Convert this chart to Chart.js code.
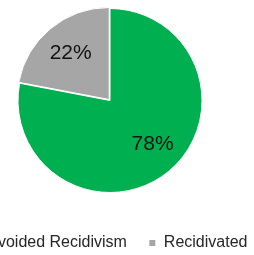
<!DOCTYPE html>
<html>
<head>
<meta charset="utf-8">
<script src="https://cdn.jsdelivr.net/npm/chart.js@4"></script>
<style>
  html, body { margin: 0; padding: 0; background: #fff; overflow: hidden; }
  #wrap { position: absolute; width: 340px; height: 273px; left: -60px; top: -12px; }
</style>
</head>
<body>
<div id="wrap"><canvas id="c" width="340" height="273"></canvas></div>
<script>
const labels = ['Avoided Recidivism', 'Recidivated'];
const values = [78, 22];
const colors = ['#00B050', '#A6A6A6'];
const offsets = [0, 5];

const FONT = '"Liberation Sans", Arial, sans-serif';

// label placement: fraction of radius, and a small turn in degrees
const labelRadius = [0.66, 0.67];
const labelTurn = [-5, 0];

const pctLabels = {
  id: 'pctLabels',
  afterDatasetsDraw: chart => {
    const ctx = chart.ctx;
    const meta = chart.getDatasetMeta(0);
    const total = values.reduce((a, b) => a + b, 0);
    ctx.save();
    ctx.font = '21px ' + FONT;
    ctx.fillStyle = '#111';
    ctx.textAlign = 'center';
    ctx.textBaseline = 'middle';
    meta.data.forEach((arc, i) => {
      const p = arc.getProps(['x', 'y', 'startAngle', 'endAngle', 'outerRadius']);
      const mid = (p.startAngle + p.endAngle) / 2 + labelTurn[i] * Math.PI / 180;
      const r = p.outerRadius * labelRadius[i];
      const tx = p.x + Math.cos(mid) * r;
      const ty = p.y + Math.sin(mid) * r;
      ctx.fillText(Math.round(values[i] / total * 100) + '%', tx, ty);
    });
    ctx.restore();
  }
};

new Chart(document.getElementById('c'), {
  type: 'pie',
  data: {
    labels: labels,
    datasets: [{
      data: values,
      backgroundColor: colors,
      borderColor: '#fff',
      borderWidth: 1,
      offset: offsets,
      radius: 92
    }]
  },
  options: {
    responsive: false,
    animation: false,
    layout: { padding: 0 },
    plugins: {
      legend: {
        position: 'bottom',
        labels: {
          boxWidth: 7,
          boxHeight: 7,
          padding: 22,
          color: '#262626',
          font: { family: FONT, size: 16 }
        }
      },
      tooltip: { enabled: false }
    }
  },
  plugins: [pctLabels]
});
</script>
</body>
</html>
